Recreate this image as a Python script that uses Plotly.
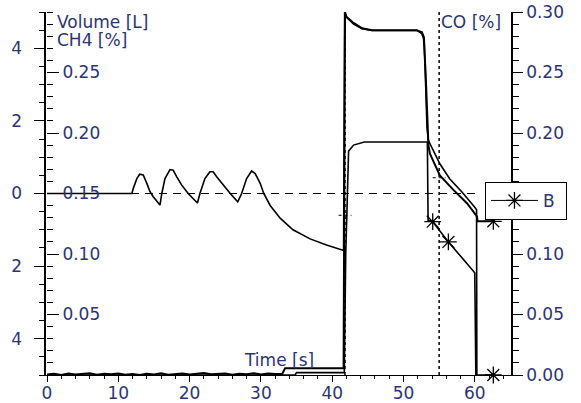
import plotly.graph_objects as go

NAVY = "#2c3470"
FONT = "DejaVu Sans"

# ---------------- data ----------------
# Volume [L] (left axis)
vol_t = [0, 10.9, 11.9, 12.1, 12.6, 13.0, 13.5, 14.0, 14.45, 14.9, 15.85, 16.1, 16.55, 17.25, 17.7,
         18.2, 18.9, 19.8, 20.75, 21.1, 21.45, 22.15, 22.85, 23.3, 23.8, 24.7, 25.7, 26.75, 27.3,
         28.0, 28.7, 29.2, 29.9, 30.4, 31.3, 32.7, 34.5, 36.9, 39.2, 41.6, 41.75, 42.0, 43.0,
         44.2, 45.6, 51.9, 52.6, 52.9, 53.1, 53.3, 53.5, 55.1, 56.5, 58.2, 60.0, 60.25, 60.3]
vol_v = [0, 0, 0, 0.14, 0.41, 0.53, 0.51, 0.28, 0.05, -0.09, -0.32, 0.0, 0.41, 0.66, 0.64,
         0.46, 0.23, 0.0, -0.20, -0.26, 0.0, 0.41, 0.60, 0.60, 0.46, 0.23, 0.0, -0.23, 0.0,
         0.41, 0.62, 0.55, 0.28, 0.0, -0.33, -0.68, -1.0, -1.25, -1.42, -1.57, 4.99, 4.86, 4.67,
         4.54, 4.49, 4.49, 4.45, 4.3, 3.0, 1.8, 1.46, 0.82, 0.40, 0.04, -0.38, -0.45, -6.0]

# CH4 [%] (inner left axis)
ch4_t = [0, 34.8, 35.0, 41.6, 41.7, 41.9, 42.15, 42.3, 43.0, 44.5, 53.35, 53.45, 54.1, 56.3,
         60.0, 60.15, 62.6]
ch4_v = [0, 0, 0.002, 0.002, 0.002, 0.10, 0.145, 0.185, 0.190, 0.1926, 0.1926, 0.128, 0.1267,
         0.110, 0.0845, 0.0, 0.0]

# CO [%] (right axis)
co_t = [0, 1, 2, 3, 4, 5, 6, 7, 8, 9, 10, 11, 12, 13, 14, 15, 16, 17, 18, 19, 20, 21, 22, 23,
        24, 25, 26, 27, 28, 29, 30, 31, 32, 33.0, 33.4, 41.6, 41.8, 42.0, 43.0, 44.2, 45.6,
        51.9, 52.6, 52.85, 53.1, 53.3, 53.5, 53.7, 55.1, 57.0, 58.9, 60.3, 60.4, 62.6]
co_v = [0.0005, 0.001, 0.0, 0.0012, 0.0004, 0.0008, 0.0015, 0.0002, 0.001, 0.0006, 0.0013,
        0.0003, 0.0009, 0.0, 0.0011, 0.0005, 0.0014, 0.0002, 0.0008, 0.0012, 0.0004, 0.001,
        0.0016, 0.0006, 0.0009, 0.0013, 0.0003, 0.0011, 0.0007, 0.0015, 0.0005, 0.0012, 0.0008,
        0.001, 0.0055, 0.0055, 0.300, 0.296, 0.291, 0.2865, 0.285, 0.285, 0.282, 0.278, 0.25,
        0.21, 0.19, 0.183, 0.165, 0.153, 0.142, 0.131, 0.127, 0.127]

# Series B star markers (CO scale)
b_t = [54.1, 56.3, 62.6, 62.6]
b_v = [0.1267, 0.110, 0.127, 0.0]

# cursors
cursor_t = [41.8, 55.0]
cursor_level = [0.132, 0.163]

x_ticks = [0, 10, 20, 30, 40, 50, 60]
vol_tickvals = [-4, -2, 0, 2, 4]
vol_ticktext = ["4", "2", "0", "2", "4"]
ch4_tickvals = [0.05, 0.10, 0.15, 0.20, 0.25]
ch4_ticktext = ["0.05", "0.10", "0.15", "0.20", "0.25"]

# ---------------- figure ----------------
fig = go.Figure()
line = dict(color="black", width=1.6)

fig.add_trace(go.Scatter(x=vol_t, y=vol_v, mode="lines", line=line, yaxis="y",
                         showlegend=False, name="Volume"))
fig.add_trace(go.Scatter(x=ch4_t, y=ch4_v, mode="lines", line=line, yaxis="y2",
                         showlegend=False, name="CH4"))
fig.add_trace(go.Scatter(x=co_t, y=co_v, mode="lines", line=dict(color="black", width=2),
                         yaxis="y3", showlegend=False, name="CO"))
fig.add_trace(go.Scatter(x=b_t, y=b_v, mode="markers", yaxis="y3", cliponaxis=False,
                         marker=dict(symbol="asterisk", size=14, color="black",
                                     line=dict(color="black", width=1.3)),
                         showlegend=False, legendgroup="B", name="B"))
fig.add_trace(go.Scatter(x=[None], y=[None], mode="lines+markers", yaxis="y3",
                         line=dict(color="black", width=1),
                         marker=dict(symbol="asterisk", size=14, color="black",
                                     line=dict(color="black", width=1.3)),
                         legendgroup="B", name="B\u00a0"))

shapes = [dict(type="line", xref="x", yref="y", x0=0, x1=60.6, y0=0, y1=0,
               line=dict(color="black", width=1, dash="8px,6px"), layer="below")]
for t, lv in zip(cursor_t, cursor_level):
    shapes.append(dict(type="line", xref="x", yref="paper", x0=t, x1=t, y0=0, y1=1,
                       line=dict(color="black", width=1.5, dash="dot")))
    shapes.append(dict(type="line", xref="x", yref="y3", x0=t - 0.9, x1=t + 0.9, y0=lv, y1=lv,
                       line=dict(color="black", width=1, dash="dot")))

tickfont = dict(family=FONT, size=17, color=NAVY)
fig.update_layout(
    width=581, height=403, autosize=False,
    margin=dict(l=46, r=70, t=12, b=28),
    paper_bgcolor="white", plot_bgcolor="white",
    font=dict(family=FONT, size=17, color=NAVY),
    shapes=shapes,
    xaxis=dict(range=[-0.14, 65.08], tickvals=x_ticks, ticks="outside", ticklen=6,
               tickcolor="black", showline=True, linecolor="black", linewidth=1,
               showgrid=False, zeroline=False, tickfont=tickfont, automargin=False,
               ticklabelstandoff=-3,
               minor=dict(tickmode="linear", tick0=0, dtick=2, ticks="outside", ticklen=3,
                          tickcolor="black")),
    yaxis=dict(range=[-5, 5], tickmode="array", tickvals=vol_tickvals,
               ticktext=[t + "\u00a0\u2009" for t in vol_ticktext],
               ticks="outside", ticklen=10, tickcolor="black", showline=True,
               linecolor="black", linewidth=1.5, showgrid=False, zeroline=False,
               tickfont=tickfont, automargin=False,
               minor=dict(tickmode="linear", tick0=0, dtick=0.5, ticks="outside", ticklen=5,
                          tickcolor="black")),
    yaxis2=dict(range=[0, 0.30], overlaying="y", side="right", anchor="free", position=0,
                tickmode="array", tickvals=ch4_tickvals, ticktext=ch4_ticktext,
                ticks="outside", ticklen=12, tickcolor="black",
                showline=False, showgrid=False, zeroline=False, tickfont=tickfont,
                automargin=False,
                minor=dict(tickmode="linear", tick0=0, dtick=0.01, ticks="outside", ticklen=6,
                           tickcolor="black")),
    yaxis3=dict(range=[0, 0.30], overlaying="y", side="right", anchor="x",
                tickmode="linear", tick0=0, dtick=0.05, tickformat=".2f",
                ticks="outside", ticklen=10, tickcolor="black", showline=True,
                linecolor="black", linewidth=1.5, showgrid=False, zeroline=False,
                tickfont=tickfont, automargin=False,
                minor=dict(tickmode="linear", tick0=0, dtick=0.01, ticks="outside", ticklen=6,
                           tickcolor="black")),
    legend=dict(x=0.944, y=0.532, xanchor="left", yanchor="top", bgcolor="white",
                bordercolor="black", borderwidth=1, itemwidth=47,
                font=dict(family=FONT, size=17, color=NAVY)),
    annotations=[
        dict(text="Volume [L]", xref="paper", yref="paper", x=0.019, y=0.972,
             xanchor="left", yanchor="middle", showarrow=False),
        dict(text="CH4 [%]", xref="paper", yref="paper", x=0.019, y=0.923,
             xanchor="left", yanchor="middle", showarrow=False),
        dict(text="CO [%]", xref="paper", yref="paper", x=0.983, y=0.972,
             xanchor="right", yanchor="middle", showarrow=False),
        dict(text="Time [s]", xref="x", yref="paper", x=32.5, y=0.041,
             xanchor="center", yanchor="middle", showarrow=False),
    ],
)

fig.write_html("out.html", config={"displayModeBar": False},
               post_script="document.body.style.margin='0';")
